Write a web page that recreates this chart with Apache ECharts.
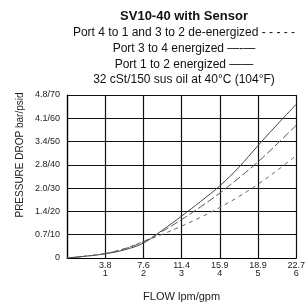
<!DOCTYPE html>
<html>
<head>
<meta charset="utf-8">
<script src="https://cdn.jsdelivr.net/npm/echarts@6/dist/echarts.min.js"></script>
<style>
  html, body { margin: 0; padding: 0; background: #fff; }
  #main { width: 308px; height: 307px; }
</style>
</head>
<body>
<div id="main"></div>
<script>
// flow in gpm, pressure drop in psid
var flowGpm = [0, 0.5, 1, 1.5, 2, 2.5, 3, 3.5, 4, 4.5, 5, 5.5, 6];
var port12Energized = [0, 0.8, 1.8, 3.5, 6.4, 12, 18, 24.3, 31, 39, 48.3, 57.3, 66];
var port34Energized = [0, 0.8, 1.9, 3.9, 7.0, 11.5, 16.5, 22, 27.9, 34.4, 41.3, 49, 57];
var port41DeEnergized = [0, 0.8, 1.9, 4.0, 7.1, 10.2, 13.7, 17.5, 21.7, 26.4, 31.7, 37.6, 44];

var xTickLabels = ['', '3.8\n1', '7.6\n2', '11.4\n3', '15.9\n4', '18.9\n5', '22.7\n6'];
var yTickLabels = ['0', '0.7/10', '1.4/20', '2.0/30', '2.8/40', '3.4/50', '4.1/60', '4.8/70'];

var titleLines = [
  'Port 4 to 1 and 3 to 2 de-energized - - - - -',
  'Port 3 to 4 energized —-—',
  'Port 1 to 2 energized ——',
  '32 cSt/150 sus oil at 40°C (104°F)'
];

function pairs(ys) {
  return flowGpm.map(function (x, i) { return [x, ys[i]]; });
}

var myChart = echarts.init(document.getElementById('main'));
var fontFam = '"Liberation Sans", Arial, sans-serif';

myChart.setOption({
  animation: false,
  grid: { left: 67, right: 7, top: 95, bottom: 49 },
  graphic: [
    {
      type: 'text', x: 184, y: 16,
      style: { text: 'SV10-40 with Sensor', font: 'bold 13px ' + fontFam, fill: '#111', textAlign: 'center', textVerticalAlign: 'middle' }
    },
    {
      type: 'text', x: 184, y: 25,
      style: { text: titleLines.join('\n'), font: '12px ' + fontFam, fill: '#111', textAlign: 'center', textVerticalAlign: 'top', lineHeight: 15.7 }
    },
    {
      type: 'text', x: 20, y: 155, rotation: Math.PI / 2,
      style: { text: 'PRESSURE DROP bar/psid', font: '10px ' + fontFam, fill: '#222', textAlign: 'center', textVerticalAlign: 'middle' }
    }
  ],
  xAxis: {
    type: 'value',
    min: 0, max: 6, interval: 1,
    name: 'FLOW lpm/gpm',
    nameLocation: 'middle',
    nameGap: 33,
    nameTextStyle: { fontSize: 11, color: '#222', fontFamily: fontFam },
    axisLine: { lineStyle: { color: '#000', width: 1.2 } },
    axisTick: { show: false },
    splitLine: { show: true, lineStyle: { color: '#111', width: 1.2 } },
    axisLabel: {
      margin: 4,
      fontSize: 9,
      lineHeight: 8,
      color: '#222',
      fontFamily: fontFam,
      showMaxLabel: true,
      formatter: function (v) { return xTickLabels[Math.round(v)]; }
    }
  },
  yAxis: {
    type: 'value',
    min: 0, max: 70, interval: 10,
    axisLine: { show: true, lineStyle: { color: '#000', width: 1.2 } },
    axisTick: { show: false },
    splitLine: { show: true, lineStyle: { color: '#111', width: 1.2 } },
    axisLabel: {
      margin: 7,
      fontSize: 9,
      color: '#222',
      fontFamily: fontFam,
      showMinLabel: true,
      hideOverlap: false,
      formatter: function (v) { return yTickLabels[Math.round(v / 10)]; }
    }
  },
  series: [
    {
      name: 'Port 1 to 2 energized',
      type: 'line', smooth: 0.4, symbol: 'none',
      data: pairs(port12Energized),
      lineStyle: { color: '#444', width: 1, type: 'solid' }
    },
    {
      name: 'Port 3 to 4 energized',
      type: 'line', smooth: 0.4, symbol: 'none',
      data: pairs(port34Energized),
      lineStyle: { color: '#555', width: 1, type: [8, 3] }
    },
    {
      name: 'Port 4 to 1 and 3 to 2 de-energized',
      type: 'line', smooth: 0.4, symbol: 'none',
      data: pairs(port41DeEnergized),
      lineStyle: { color: '#666', width: 1, type: [4, 4] }
    }
  ]
});
</script>
</body>
</html>
